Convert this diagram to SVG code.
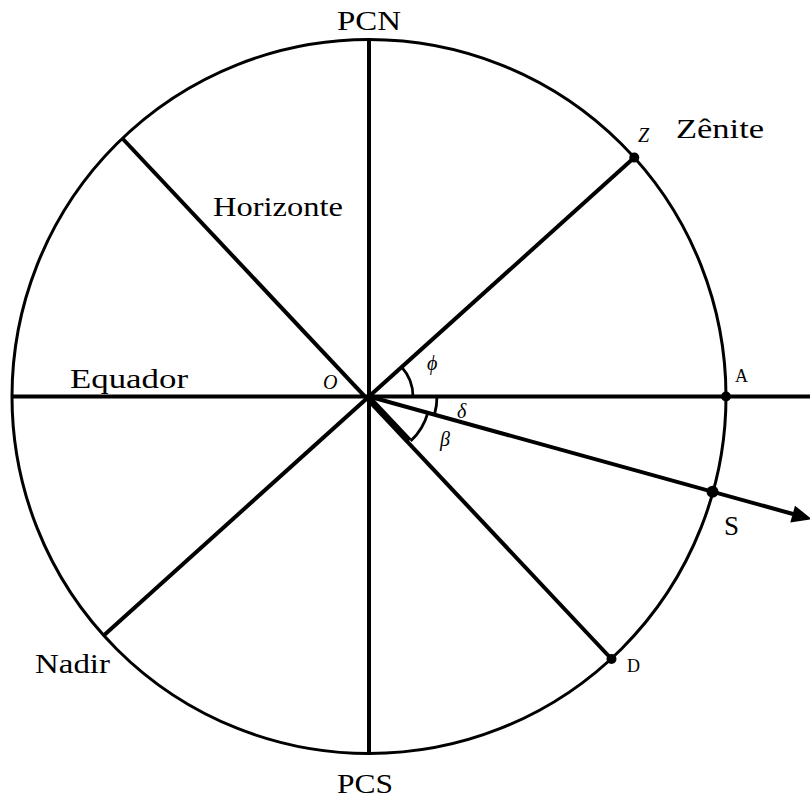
<svg xmlns="http://www.w3.org/2000/svg" width="810" height="801" viewBox="0 0 810 801">
<style>
.ln{stroke:#000;stroke-width:4;fill:none;stroke-linecap:butt}
.arc{stroke:#000;stroke-width:2.8;fill:none}
text{font-family:'Liberation Serif','DejaVu Serif','Times New Roman',serif;fill:#000}
.lbl{font-size:27px}
.sm{font-size:18px}
.it{font-style:italic;font-size:20px}
.dot{fill:#000}
</style>
<rect width="810" height="801" fill="#fff"/>
<g id="circle">
<circle cx="369" cy="396.5" r="357" fill="none" stroke="#000" stroke-width="3"/>
</g>
<g id="connectors">
<line class="ln" x1="12" y1="396.5" x2="810" y2="396.5"/>
<line class="ln" x1="369" y1="39.5" x2="369" y2="753.5"/>
<line class="ln" x1="122" y1="138" x2="611.5" y2="659"/>
<line class="ln" x1="634.3" y1="157.6" x2="103.7" y2="635.4"/>
<line class="ln" x1="369" y1="396.5" x2="793" y2="514"/>
<line class="ln" x1="369" y1="396.5" x2="410" y2="440" stroke-width="5"/>
<polygon points="812,519.3 790.3,522.6 795,505.7" fill="#000"/>
<path class="arc" d="M413,396.5 A44,44 0 0 0 401.7,367.1"/>
<path class="arc" d="M437,396.5 A68,68 0 0 1 434.5,414.7"/>
<path class="arc" d="M427.8,412.8 A61,61 0 0 1 410.7,441"/>
</g>
<g id="Z"><circle class="dot" cx="634.3" cy="157.6" r="5"/><text class="it" x="638" y="142" font-size="17">Z</text></g>
<g id="A"><circle class="dot" cx="726" cy="396.5" r="5"/><text class="sm" x="735" y="382">A</text></g>
<g id="S"><circle class="dot" cx="712.5" cy="491.8" r="6"/><text class="lbl" x="724" y="535">S</text></g>
<g id="D"><circle class="dot" cx="611.5" cy="659" r="5"/><text class="sm" x="627" y="672">D</text></g>
<g id="O"><text class="it" x="323" y="389">O</text></g>
<g id="PCN"><text class="lbl" x="369" y="30" text-anchor="middle" textLength="64" lengthAdjust="spacingAndGlyphs">PCN</text></g>
<g id="PCS"><text class="lbl" x="365" y="793" text-anchor="middle" textLength="56" lengthAdjust="spacingAndGlyphs">PCS</text></g>
<g id="Zenite"><text class="lbl" x="676" y="138" textLength="88" lengthAdjust="spacingAndGlyphs">Zênite</text></g>
<g id="Horizonte"><text class="lbl" x="213" y="216" textLength="130" lengthAdjust="spacingAndGlyphs">Horizonte</text></g>
<g id="Equador"><text class="lbl" x="70" y="388" textLength="118" lengthAdjust="spacingAndGlyphs">Equador</text></g>
<g id="Nadir"><text class="lbl" x="35" y="673" textLength="75" lengthAdjust="spacingAndGlyphs">Nadir</text></g>
<g id="phi"><text class="it" x="427" y="370">ϕ</text></g>
<g id="delta"><text class="it" x="457" y="418">δ</text></g>
<g id="beta"><text class="it" x="440" y="446">β</text></g>
</svg>
